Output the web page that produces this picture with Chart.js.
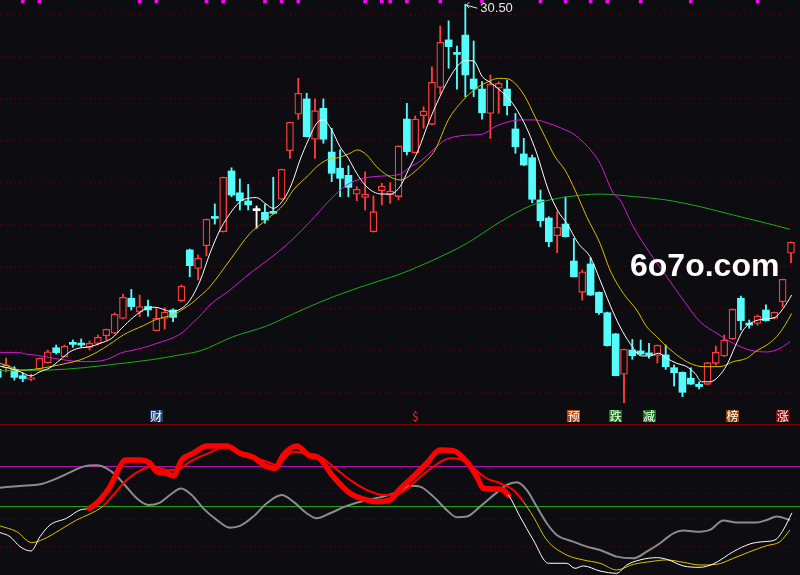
<!DOCTYPE html>
<html>
<head>
<meta charset="utf-8">
<script src="https://cdn.jsdelivr.net/npm/chart.js@4.4.1/dist/chart.umd.min.js"></script>
<style>
  html, body { margin: 0; padding: 0; background: #0d0d11; }
  #wrap { position: relative; width: 800px; height: 575px; overflow: hidden; background: #0d0d11; }
  #main { position: absolute; left: 0; top: 0; }
  #sep { position: absolute; left: 0; top: 424px; width: 800px; height: 1px; background: #780000; }
  #sub { position: absolute; left: 0; top: 425px; }
</style>
</head>
<body>
<div id="wrap">
  <canvas id="main" width="800" height="424"></canvas>
  <div id="sep"></div>
  <canvas id="sub" width="800" height="150"></canvas>
</div>
<script>
// daily candles, index 0 is the half-hidden one at the left edge
const OPEN = [13.11,13.18,13.11,12.81,12.63,13.11,13.43,14.14,13.71,14.40,
  14.35,14.16,14.35,14.71,14.83,15.54,16.50,15.83,16.11,14.95,
  15.54,15.94,16.38,18.80,17.92,19.00,20.37,19.67,22.56,21.52,
  21.13,20.67,20.59,20.59,21.21,23.52,25.26,25.99,24.07,25.54,
  23.46,22.69,22.35,21.45,21.30,19.67,21.62,21.41,21.34,25.03,
  23.43,25.19,24.78,26.54,28.80,28.19,29.03,26.94,26.46,25.30,
  26.50,26.46,24.56,23.37,23.19,21.18,20.32,19.48,20.03,18.27,
  16.78,18.13,16.78,15.81,14.80,12.88,14.03,13.99,13.84,13.77,
  13.80,13.19,12.97,12.69,12.40,12.40,13.40,13.75,14.56,16.50,
  15.30,15.30,15.94,15.54,16.33,18.64];
const HIGH = [13.22,13.65,13.24,12.94,12.89,13.65,14.03,14.27,14.27,14.51,
  14.56,14.46,14.75,15.03,15.80,16.70,16.92,16.65,16.41,16.05,
  16.05,15.99,17.13,18.84,18.56,20.27,20.99,22.27,22.71,22.18,
  21.92,20.89,20.97,22.26,22.65,24.89,26.97,26.26,25.99,25.99,
  24.59,23.56,22.81,21.81,22.52,21.37,21.97,22.00,23.75,25.78,
  25.18,25.62,27.52,29.46,29.71,28.51,30.50,28.75,26.81,27.13,
  26.81,26.89,25.30,24.11,23.32,21.65,20.38,20.62,21.33,19.35,
  17.84,18.43,16.80,15.84,14.82,14.08,14.54,14.51,14.35,14.27,
  14.27,13.32,12.99,13.19,12.52,13.44,14.22,14.75,15.99,16.60,
  15.46,15.70,16.18,15.84,17.41,19.18];
const LOW = [12.65,12.99,12.60,12.52,12.57,13.08,13.41,13.84,13.70,14.16,
  14.19,14.03,14.27,14.51,14.80,15.51,15.94,15.62,15.65,14.94,
  15.03,15.38,16.33,17.52,17.37,18.52,20.03,19.65,21.33,20.70,
  20.70,19.83,20.07,20.51,21.20,23.16,25.02,24.18,23.16,23.88,
  22.05,21.33,21.33,21.14,20.70,19.65,20.94,21.02,21.18,23.32,
  23.41,24.59,24.75,26.22,27.45,26.45,26.10,26.10,25.02,24.11,
  25.30,25.22,23.40,22.82,21.05,19.90,18.95,18.67,19.41,17.51,
  16.41,16.63,15.73,14.22,12.80,11.52,13.59,13.80,13.64,13.41,
  13.11,12.32,11.81,12.39,12.18,12.37,13.32,13.72,14.53,14.99,
  15.07,15.22,15.41,15.51,16.10,18.19];
const CLOSE = [12.73,13.32,12.73,12.67,12.65,13.64,13.95,13.91,14.21,14.30,
  14.27,14.35,14.64,15.02,15.73,16.54,16.10,16.10,15.94,15.54,
  15.84,15.59,17.08,18.05,18.40,20.26,20.30,22.26,21.41,21.14,
  20.94,20.67,20.22,20.54,22.64,24.88,26.26,24.19,25.43,24.07,
  22.45,22.21,21.78,21.69,21.45,20.62,21.84,21.60,23.75,23.48,
  25.03,25.41,26.78,28.69,28.48,28.11,27.13,26.46,25.33,26.69,
  26.73,25.67,23.71,22.84,21.21,20.19,19.19,19.88,19.43,17.52,
  17.76,16.65,15.81,14.24,12.81,14.07,13.76,13.84,13.80,14.26,
  13.24,12.95,12.02,12.41,12.29,13.43,13.92,14.51,15.97,15.43,
  15.22,15.65,15.43,15.83,17.40,19.16];

// moving averages at (fractional) candle positions
const MA5_AT = [0.28,1.47,2.67,3.99,5.07,6.26,7.46,8.66,9.62,11.05,12.25,13.65,14.85,16.24,17.84,18.84,19.83,20.84,22.04,23.03,
  24.23,25.42,26.62,27.43,29.02,30.01,31.02,32.01,33.01,34.20,35.21,36.20,37.20,38.20,38.99,40.00,40.99,41.99,42.99,43.99,
  44.98,45.99,46.98,48.18,49.17,50.37,51.57,52.77,53.96,55.16,55.96,56.96,58.04,59.16,60.36,61.35,62.55,63.54,64.55,65.94,
  67.14,68.14,69.53,70.93,72.13,73.33,74.53,75.72,77.12,78.12,79.11,80.12,81.32,82.51,83.51,84.31,85.30,86.30,87.31,88.30,
  89.29,90.49,91.69,93.09,94.08,95.09];
const MA5 = [13.27,13.16,13.00,12.80,13.00,13.19,13.56,13.95,14.11,14.19,14.35,14.59,15.07,15.59,16.02,16.07,15.97,15.86,16.02,16.41,
  17.32,18.64,19.75,20.30,21.10,21.26,21.29,21.02,20.78,21.18,21.94,23.08,24.03,24.83,24.99,24.51,23.71,23.16,22.45,21.89,
  21.57,21.46,21.46,21.81,22.60,23.56,24.83,25.94,26.89,27.60,27.81,27.80,27.05,26.73,26.33,25.94,25.22,24.43,23.40,21.65,
  20.62,20.07,19.11,18.48,17.37,16.18,15.14,14.35,13.75,13.75,13.88,13.64,13.40,13.24,12.92,12.52,12.52,12.76,13.32,14.19,
  14.99,15.38,15.50,15.59,16.02,16.65];
const MA10_AT = [0.28,1.47,2.67,4.26,6.26,8.26,9.86,11.26,12.65,13.84,15.04,16.24,17.44,18.63,19.83,21.03,22.04,23.23,24.23,
  25.42,27.82,30.22,31.41,32.61,34.20,35.40,37.20,38.20,39.40,40.99,42.19,43.07,44.19,45.39,46.59,48.18,49.17,50.78,52.37,
  53.96,55.57,57.16,58.75,59.95,61.15,62.15,63.15,64.35,65.54,66.74,67.94,69.14,70.54,72.13,73.33,74.92,76.52,77.72,78.92,
  79.71,81.32,82.91,84.50,86.50,88.09,89.70,90.90,92.10,93.29,94.29,95.09];
const MA10 = [13.40,13.24,13.08,13.11,13.24,13.40,13.56,13.80,14.11,14.43,14.75,14.99,15.19,15.43,15.59,15.70,15.94,16.26,16.60,
  17.05,18.32,19.59,19.99,20.38,20.94,21.65,22.35,22.76,23.08,23.21,23.40,23.56,23.32,22.76,22.37,22.13,22.29,22.84,23.56,
  24.99,25.86,26.45,26.81,26.97,26.94,26.65,26.10,25.14,24.19,23.24,22.60,21.65,20.38,19.11,17.84,16.73,15.94,15.14,14.67,
  14.35,13.80,13.40,13.24,13.24,13.48,13.64,14.00,14.27,14.67,15.22,15.78];
const MA20_AT = [0.28,2.28,3.47,4.67,6.26,7.46,9.05,10.66,12.25,13.45,14.65,16.24,17.84,19.44,21.03,22.23,23.43,24.23,
  25.42,27.82,30.22,32.61,35.01,37.40,39.80,41.80,43.78,46.18,48.18,49.17,50.78,52.37,53.57,54.77,56.36,57.96,59.56,61.15,
  62.75,64.35,65.94,67.54,69.14,71.33,72.13,73.72,74.53,76.12,78.12,80.12,82.11,84.11,86.11,88.09,90.09,92.09,93.69,94.88];
const MA20 = [13.92,13.92,13.84,13.78,13.67,13.59,13.51,13.48,13.51,13.64,13.88,14.03,14.19,14.40,14.62,14.90,15.36,15.65,
  16.18,16.89,17.69,18.40,19.19,20.14,21.18,21.89,22.21,22.32,22.40,22.69,23.08,23.64,24.03,24.19,24.27,24.30,24.67,24.90,
  24.99,24.99,24.83,24.59,24.27,23.40,22.92,21.50,21.18,19.90,18.64,17.52,16.41,15.38,14.83,14.35,14.03,13.94,14.11,14.43];
const MA60_AT = [0.28,6.26,10.25,14.25,18.24,22.23,24.23,28.22,32.22,36.20,40.19,44.19,48.18,52.17,56.17,60.16,64.15,68.14,
  72.13,76.12,79.71,84.11,88.09,92.09,94.88];
const MA60 = [13.05,13.08,13.19,13.37,13.56,13.83,13.99,14.67,15.18,15.90,16.57,17.13,17.65,18.32,19.11,20.13,20.96,21.32,
  21.46,21.34,21.20,20.86,20.46,20.07,19.78];

const PRICE_GRID = [30, 28, 26, 24, 22, 20, 18, 16, 14, 12];
const TOP_MARK_IDX = [3,5,17,19,25,27,32,34,36,44,46,47,49,53,58,65,68,71,73,77,83,91];
const SIGNAL_IDX = [19, 50, 69, 74, 78, 88, 94];
const SIGNAL_TXT = ['财', '$', '预', '跌', '减', '榜', '涨'];
const SIGNAL_BG = ['#1d3f6d', null, '#b4460e', '#0a7d0a', '#0a7d0a', '#8a4208', '#860808'];

// lower indicator panel
const FAST_AT = [0.28,1.47,2.67,3.99,5.07,6.26,8.26,9.86,10.97,12.25,13.45,14.65,15.25,17.04,18.24,19.04,20.24,21.03,22.04,23.43,
  25.03,27.43,29.02,30.61,32.22,33.21,34.20,35.81,37.40,38.20,40.19,42.19,44.19,45.39,46.98,48.18,49.77,51.38,52.97,54.56,
  56.17,57.37,58.16,60.16,61.15,62.55,64.14,65.94,68.14,69.14,70.13,72.13,74.13,75.33,76.92,78.92,80.12,82.11,84.11,85.70,
  88.09,90.09,91.69,93.09,94.08,95.09];
const FAST = [30.5,27.5,20.0,16.7,27.5,36.2,41.3,47.5,48.8,55.0,65.0,80.0,85.0,85.0,82.5,76.2,75.0,73.0,85.0,90.0,
  95.5,95.5,90.0,87.0,80.0,78.8,88.7,95.5,88.0,87.5,72.5,60.0,55.0,53.7,55.0,63.2,72.5,82.5,92.5,92.0,
  83.7,72.5,63.7,63.0,58.7,42.5,25.0,7.5,7.5,3.7,5.5,1.7,0,6.2,10.0,11.7,10.5,5.5,4.5,7.0,
  16.2,22.0,23.7,25.0,32.5,45.0];
const FAST_HOT = [10.97, 61.15];
const SLOW_AT = [0.28,2.28,4.07,5.46,7.46,9.46,11.05,12.65,13.84,15.45,17.04,18.63,20.24,21.44,23.03,25.03,27.43,29.82,32.22,33.41,
  35.40,37.00,38.60,40.19,42.19,44.19,46.18,48.18,50.18,52.17,54.17,55.37,56.96,58.56,60.16,61.75,62.95,64.14,65.75,68.14,
  70.13,72.13,74.13,76.12,78.12,80.12,82.11,84.11,86.11,88.09,90.09,92.09,93.69,94.88];
const SLOW = [35.5,31.2,23.0,25.5,32.5,40.0,44.5,50.5,58.7,70.0,77.0,80.0,77.5,77.5,83.7,89.5,95.0,88.7,83.7,81.2,
  91.2,90.0,87.5,80.0,70.0,62.5,58.7,60.0,70.0,80.0,86.2,85.5,78.7,71.2,67.5,62.5,53.7,42.5,25.0,13.7,
  10.0,7.5,2.5,6.7,8.7,10.0,8.2,6.2,6.7,11.2,16.2,20.7,23.7,32.5];
const SLOW_HOT = [12.65, 62.95];
const OSC_AT = [0.28,2.67,5.07,6.66,8.26,10.25,11.86,13.05,14.25,15.45,16.65,18.04,19.44,20.63,21.95,23.23,24.62,26.23,27.82,29.02,
  30.61,32.22,34.01,35.40,37.00,38.20,39.80,41.80,44.19,46.18,48.18,49.38,50.57,52.17,53.77,54.97,56.17,57.76,59.76,60.96,
  62.16,63.35,64.55,65.75,66.95,68.93,70.54,72.13,74.13,76.12,77.72,79.32,80.91,82.11,84.11,85.30,86.90,88.50,90.90,92.10,
  93.29,94.88];
const OSC = [64.2,65.5,66.7,70.0,74.5,80.0,81.0,78.7,73.0,64.5,56.2,51.2,53.0,58.7,63.5,58.7,48.7,40.0,34.2,35.5,
  42.5,52.5,58.7,53.7,45.0,41.2,45.0,50.5,55.0,57.5,61.7,65.7,65.0,57.5,47.5,42.0,42.5,50.0,60.5,66.2,
  68.2,62.5,50.0,37.5,28.7,23.7,20.0,17.5,12.5,11.2,16.2,22.5,30.0,32.0,31.2,32.5,39.5,38.0,38.0,40.0,
  42.5,40.0];
const SUB_LEVELS = [80, 50];
const SUB_GRID = [20, 40, 60];

const BG = '#0d0d11';
const RED = '#ff3c3c';
const CYAN = '#54fcfc';
const GRID = '#6a0000';
const X_MIN = 0.275, X_MAX = 96.08;

function pts(at, vals) { return at.map((x, k) => ({ x: x, y: vals[k] })); }
function kind(i) { return CLOSE[i] > OPEN[i] ? 'up' : (CLOSE[i] < OPEN[i] ? 'down' : 'flat'); }
const idx = OPEN.map((_, i) => i);
const tone = idx.map(i => ({ up: RED, down: CYAN, flat: '#ffffff' })[kind(i)]);

function maLine(at, vals, color) {
  return {
    type: 'line', data: pts(at, vals), borderColor: color, borderWidth: 1,
    pointRadius: 0, cubicInterpolationMode: 'monotone', order: 0
  };
}

const overlayText = {
  id: 'overlayText',
  afterDraw(chart) {
    const { ctx, chartArea, scales: { x, y } } = chart;
    ctx.save();
    // highest price marker
    let hi = 0;
    HIGH.forEach((v, i) => { if (v > HIGH[hi]) hi = i; });
    const hx = x.getPixelForValue(hi), hy = y.getPixelForValue(HIGH[hi]);
    ctx.strokeStyle = '#e6e6e6';
    ctx.lineWidth = 1;
    ctx.beginPath();
    ctx.moveTo(hx + 4, hy - 2); ctx.lineTo(hx + 1, hy + 1); ctx.lineTo(hx + 4, hy + 4);
    ctx.moveTo(hx + 1, hy + 1); ctx.lineTo(hx + 12, hy + 4);
    ctx.stroke();
    ctx.fillStyle = '#e6e6e6';
    ctx.font = '13px "Liberation Sans", Arial, sans-serif';
    ctx.textBaseline = 'top';
    ctx.textAlign = 'left';
    ctx.fillText(HIGH[hi].toFixed(2), hx + 15, hy - 2);

    // signal tags under the candles
    ctx.font = '12px "Noto Sans CJK SC", sans-serif';
    ctx.textAlign = 'center';
    ctx.textBaseline = 'middle';
    SIGNAL_IDX.forEach((i, k) => {
      const cx = x.getPixelForValue(i);
      const top = chartArea.bottom - 14;
      if (SIGNAL_BG[k]) {
        ctx.fillStyle = SIGNAL_BG[k];
        ctx.fillRect(Math.round(cx - 6.5), top, 13, 12);
        ctx.fillStyle = '#ffffff';
      } else {
        ctx.fillStyle = '#ff2020';
      }
      ctx.fillText(SIGNAL_TXT[k], cx, top + 6);
    });

    // watermark
    ctx.fillStyle = '#ffffff';
    ctx.font = 'bold 32px "Liberation Sans", Arial, sans-serif';
    ctx.textAlign = 'left';
    ctx.textBaseline = 'alphabetic';
    ctx.fillText('6o7o.com', 630, 276);
    ctx.restore();
  }
};

new Chart(document.getElementById('main'), {
  type: 'bar',
  data: {
    datasets: [
      maLine(MA5_AT, MA5, '#ffffff'),
      maLine(MA10_AT, MA10, '#dcbc00'),
      maLine(MA20_AT, MA20, '#d01cd0'),
      maLine(MA60_AT, MA60, '#1eaa1e'),
      {
        // bodies
        data: idx.map(i => ({ x: i, y: [OPEN[i], CLOSE[i]] })),
        backgroundColor: idx.map(i => kind(i) === 'up' ? BG : tone[i]),
        borderColor: tone,
        borderWidth: idx.map(i => kind(i) === 'up' ? 1.3 : 0),
        borderSkipped: false,
        barThickness: 7,
        minBarLength: 2,
        grouped: false,
        order: 2
      },
      {
        // wicks
        data: idx.map(i => ({ x: i, y: [LOW[i], HIGH[i]] })),
        backgroundColor: tone,
        barThickness: 1.2,
        grouped: false,
        order: 3
      },
      {
        // little marks on the top edge
        data: TOP_MARK_IDX.map(i => ({ x: i, y: [30.56, 30.70] })),
        backgroundColor: '#ff00ff',
        barThickness: 3,
        grouped: false,
        order: 1
      }
    ]
  },
  options: {
    responsive: false,
    animation: false,
    events: [],
    layout: { padding: 0 },
    plugins: { legend: { display: false }, tooltip: { enabled: false } },
    scales: {
      x: { type: 'linear', min: X_MIN, max: X_MAX, offset: false, display: false, grid: { offset: false } },
      y: {
        min: 10.51, max: 30.70,
        ticks: { display: false },
        grid: { color: GRID, drawTicks: false },
        border: { display: false, dash: [1, 4] },
        afterBuildTicks: s => { s.ticks = PRICE_GRID.map(v => ({ value: v })); },
        afterFit: s => { s.width = 0; }
      }
    }
  },
  plugins: [overlayText]
});

function hotSegment(range, hot, cold) {
  return c => (c.p0.parsed.x >= range[0] && c.p1.parsed.x <= range[1]) ? hot : cold;
}

new Chart(document.getElementById('sub'), {
  type: 'line',
  data: {
    datasets: [
      { data: [{ x: X_MIN, y: SUB_LEVELS[0] }, { x: X_MAX, y: SUB_LEVELS[0] }], borderColor: '#c010c0', borderWidth: 1, pointRadius: 0, order: 5 },
      { data: [{ x: X_MIN, y: SUB_LEVELS[1] }, { x: X_MAX, y: SUB_LEVELS[1] }], borderColor: '#22b022', borderWidth: 1, pointRadius: 0, order: 5 },
      { data: pts(OSC_AT, OSC), borderColor: '#8c8c8c', borderWidth: 2, pointRadius: 0, cubicInterpolationMode: 'monotone', order: 3 },
      {
        data: pts(SLOW_AT, SLOW), pointRadius: 0, cubicInterpolationMode: 'monotone', order: 1,
        borderColor: '#e0c000', borderWidth: 1,
        segment: { borderColor: hotSegment(SLOW_HOT, '#ff0000', '#e0c000'), borderWidth: hotSegment(SLOW_HOT, 2, 1) }
      },
      {
        data: pts(FAST_AT, FAST), pointRadius: 0, cubicInterpolationMode: 'monotone', order: 0,
        borderColor: '#ffffff', borderWidth: 1, borderCapStyle: 'round', borderJoinStyle: 'round',
        segment: { borderColor: hotSegment(FAST_HOT, '#ff0000', '#ffffff'), borderWidth: hotSegment(FAST_HOT, 5.5, 1) }
      }
    ]
  },
  options: {
    responsive: false,
    animation: false,
    events: [],
    layout: { padding: 0 },
    plugins: { legend: { display: false }, tooltip: { enabled: false } },
    scales: {
      x: { type: 'linear', min: X_MIN, max: X_MAX, display: false },
      y: {
        min: -1.3, max: 111.2,
        ticks: { display: false },
        grid: { color: GRID, drawTicks: false },
        border: { display: false, dash: [1, 4] },
        afterBuildTicks: s => { s.ticks = SUB_GRID.map(v => ({ value: v })); },
        afterFit: s => { s.width = 0; }
      }
    }
  }
});
</script>
</body>
</html>
